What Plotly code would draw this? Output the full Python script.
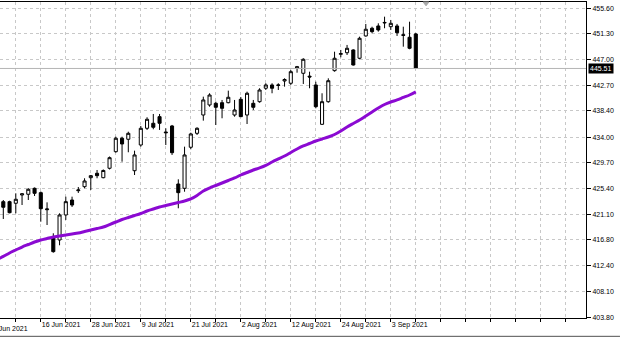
import plotly.graph_objects as go
from datetime import datetime

# ---------------- data ----------------
dates = ["2021-06-07","2021-06-08","2021-06-09","2021-06-10","2021-06-11","2021-06-14","2021-06-15",
         "2021-06-16","2021-06-17","2021-06-18","2021-06-21","2021-06-22","2021-06-23","2021-06-24",
         "2021-06-25","2021-06-28","2021-06-29","2021-06-30","2021-07-01","2021-07-02","2021-07-06",
         "2021-07-07","2021-07-08","2021-07-09","2021-07-12","2021-07-13","2021-07-14","2021-07-15",
         "2021-07-16","2021-07-19","2021-07-20","2021-07-21","2021-07-22","2021-07-23","2021-07-26",
         "2021-07-27","2021-07-28","2021-07-29","2021-07-30","2021-08-02","2021-08-03","2021-08-04",
         "2021-08-05","2021-08-06","2021-08-09","2021-08-10","2021-08-11","2021-08-12","2021-08-13",
         "2021-08-16","2021-08-17","2021-08-18","2021-08-19","2021-08-20","2021-08-23","2021-08-24",
         "2021-08-25","2021-08-26","2021-08-27","2021-08-30","2021-08-31","2021-09-01","2021-09-02",
         "2021-09-03","2021-09-07","2021-09-08","2021-09-09","2021-09-10"]

# candles start at the second date (first date only carries the moving average)
open_ = [423.18, 423.18, 422.91, 424.30, 424.42, 425.42, 424.69, 421.83, 417.21, 416.76,
         420.95, 423.46, 425.02, 425.69, 427.20, 427.94, 427.20, 428.78, 431.56, 433.81,
         433.64, 428.37, 432.68, 435.48, 436.32, 437.43, 434.86, 435.87, 426.14, 425.42,
         432.30, 434.64, 437.71, 439.39, 439.67, 439.77, 439.77, 437.71, 440.34, 437.71,
         439.67, 439.94, 442.19, 442.74, 442.66, 443.41, 443.03, 445.54, 444.70, 444.22,
         442.74, 436.15, 439.94, 445.14, 447.89, 448.15, 448.61, 447.22, 450.96, 452.25,
         452.63, 453.13, 452.51, 452.63, 451.16, 450.74, 451.29]
high = [423.46, 423.34, 424.58, 424.58, 425.43, 425.56, 424.89, 423.07, 417.88, 421.23,
        424.02, 424.02, 425.64, 427.10, 427.65, 428.49, 428.58, 430.75, 434.07, 434.07,
        434.91, 431.73, 435.87, 437.33, 437.88, 437.88, 435.48, 436.04, 426.93, 432.40,
        434.74, 435.65, 440.78, 441.35, 439.94, 440.23, 441.79, 440.23, 440.73, 441.62,
        440.23, 442.19, 443.03, 443.03, 443.03, 443.86, 445.26, 445.93, 447.22, 444.97,
        443.29, 441.35, 443.86, 448.32, 448.61, 449.45, 448.73, 450.84, 452.97, 452.51,
        453.08, 454.19, 453.64, 452.97, 452.51, 453.35, 451.46]
low = [420.28, 421.23, 421.23, 422.62, 423.46, 424.13, 419.82, 419.27, 414.63, 415.87,
       420.11, 422.29, 424.64, 425.43, 425.14, 427.10, 427.10, 428.58, 431.39, 429.88,
       431.46, 427.65, 432.40, 435.20, 435.32, 435.20, 432.68, 431.01, 422.07, 424.85,
       431.96, 434.36, 436.76, 439.10, 436.03, 437.16, 439.67, 437.43, 437.38, 436.20,
       438.55, 439.77, 441.90, 441.35, 441.90, 442.46, 442.74, 444.80, 442.91, 442.19,
       438.83, 436.03, 439.77, 444.97, 447.38, 447.77, 446.00, 447.05, 450.84, 451.41,
       451.68, 452.25, 451.96, 450.96, 449.16, 448.73, 445.42]
close = [422.24, 421.33, 423.58, 424.50, 425.26, 424.58, 422.00, 421.95, 414.80, 420.95,
         423.18, 422.62, 425.14, 426.65, 427.54, 427.54, 428.41, 430.55, 433.81, 432.85,
         434.64, 431.01, 435.48, 436.99, 435.65, 436.32, 434.74, 431.39, 424.69, 431.01,
         434.53, 435.48, 440.23, 441.06, 439.00, 438.83, 440.68, 438.55, 437.43, 441.35,
         439.00, 441.90, 442.74, 442.19, 442.74, 443.66, 444.97, 445.81, 447.05, 444.08,
         439.10, 439.94, 443.46, 447.22, 447.99, 448.89, 446.09, 450.57, 452.08, 451.68,
         451.96, 453.22, 453.08, 451.51, 451.07, 448.89, 445.51]
ma = [413.49, 414.00, 414.58, 415.08, 415.58, 416.00, 416.42, 416.76, 417.01, 417.26,
      417.43, 417.60, 417.76, 417.93, 418.18, 418.43, 418.68, 418.93, 419.35, 419.77,
      420.19, 420.53, 420.86, 421.20, 421.62, 421.95, 422.29, 422.54, 422.79, 423.04,
      423.29, 423.63, 424.22, 424.97, 425.47, 425.89, 426.31, 426.73, 427.15, 427.65,
      428.07, 428.49, 428.83, 429.25, 429.83, 430.34, 430.84, 431.43, 432.01, 432.52,
      432.93, 433.35, 433.69, 434.02, 434.44, 435.03, 435.70, 436.29, 436.87, 437.54,
      438.21, 438.88, 439.47, 439.89, 440.23, 440.65, 441.06, 441.57]

y_ticks = [455.60, 451.30, 447.00, 442.70, 438.40, 434.00, 429.70, 425.40,
           421.10, 416.80, 412.40, 408.10, 403.80]
label_dates = ["2021-06-16", "2021-06-28", "2021-07-09", "2021-07-21",
               "2021-08-02", "2021-08-12", "2021-08-24", "2021-09-03"]
first_label = "4 Jun 2021"
last_price = 445.51

# ---------------- build ----------------
idx = list(range(len(dates)))
cidx = idx[1:]

def fmt(d):
    dt = datetime.strptime(d, "%Y-%m-%d")
    return f"{dt.day} {dt.strftime('%b %Y')}"

label_pos = {dates.index(d): fmt(d) for d in label_dates}
x0, x1 = 0.472, 94.23
grid_pos = list(range(3, 95, 4))
tick_text = [label_pos.get(p, "") for p in grid_pos]

FONT = "Liberation Sans"

fig = go.Figure()
fig.add_trace(go.Scatter(
    x=idx, y=ma, mode="lines",
    line=dict(color="#8B0AD2", width=3, shape="spline", smoothing=0.8),
    hoverinfo="skip", showlegend=False))
fig.add_trace(go.Candlestick(
    x=cidx, open=open_, high=high, low=low, close=close,
    increasing=dict(line=dict(color="black", width=1), fillcolor="white"),
    decreasing=dict(line=dict(color="black", width=1), fillcolor="black"),
    whiskerwidth=0, showlegend=False, hoverinfo="skip"))

fig.update_layout(
    width=620, height=338,
    margin=dict(l=0, r=34, t=2, b=20),
    paper_bgcolor="white", plot_bgcolor="white",
    font=dict(family=FONT, size=7, color="black"),
    showlegend=False,
    xaxis=dict(
        range=[x0, x1], rangeslider=dict(visible=False),
        tickmode="array", tickvals=grid_pos, ticktext=tick_text,
        ticks="outside", ticklen=3, tickcolor="black",
        ticklabelposition="outside right",
        showgrid=True, gridcolor="#C8C8C8", griddash="dot", gridwidth=1,
        showline=True, linecolor="black", linewidth=1, mirror=True,
        zeroline=False, tickfont=dict(family=FONT, size=7, color="black"),
    ),
    yaxis=dict(
        range=[403.68, 456.65], side="right",
        tickmode="array", tickvals=y_ticks, ticktext=[f"{v:.2f}" for v in y_ticks],
        ticks="outside", ticklen=4, tickcolor="black",
        showgrid=True, gridcolor="#C8C8C8", griddash="dot", gridwidth=1,
        showline=True, linecolor="black", linewidth=1,
        zeroline=False, tickfont=dict(family=FONT, size=7, color="black"),
    ),
)

# current price line
fig.add_shape(type="line", xref="paper", yref="y", x0=0, x1=1,
              y0=last_price, y1=last_price, line=dict(color="#B4B4B4", width=1))
# current price label
fig.add_annotation(xref="paper", yref="y", x=1, y=last_price, xanchor="left",
                   yanchor="middle", xshift=2, text=f"{last_price:.2f}", showarrow=False,
                   bgcolor="black", font=dict(color="white", size=7, family=FONT),
                   borderpad=1)
# partially visible first date label (cut by the left edge, as in the original)
first_px = (-1 - x0) / (x1 - x0)
fig.add_annotation(xref="paper", yref="paper", x=first_px, y=-0.017, xanchor="left",
                   yanchor="top", text=first_label, showarrow=False,
                   font=dict(size=7, family=FONT, color="black"))
# chart-shift marker on the top border
fig.add_shape(type="path", xref="paper", yref="paper",
              path="M 0.722 1.0 L 0.732 1.0 L 0.727 0.988 Z",
              fillcolor="#A8A8A8", line=dict(color="#A8A8A8", width=1))
# window bottom border
fig.add_shape(type="line", xref="paper", yref="paper", x0=0, x1=1.058,
              y0=-0.058, y1=-0.058, line=dict(color="#505050", width=1))

fig.write_html("out.html")
